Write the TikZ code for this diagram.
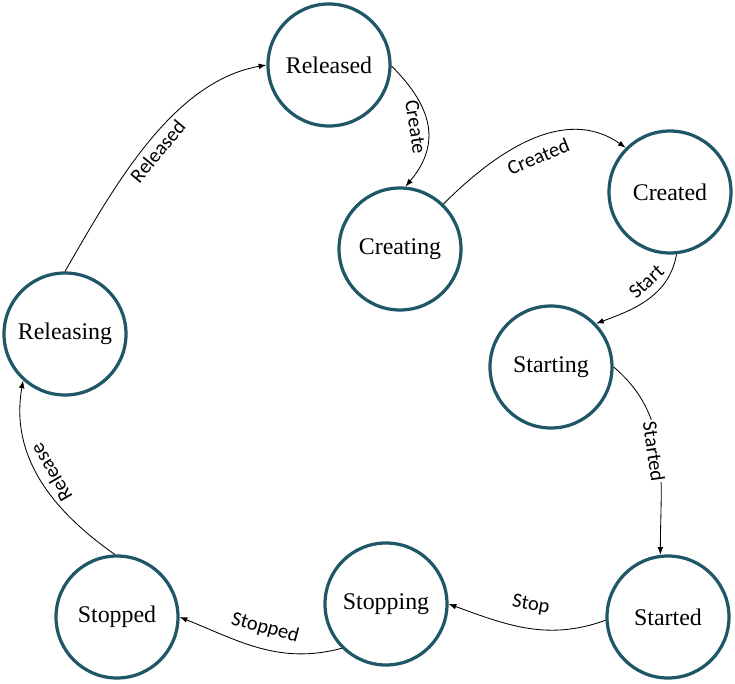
\documentclass[tikz,border=0pt]{standalone}
\usepackage{fontspec}
\setmainfont{Liberation Serif}
\newfontfamily\lblfont{Carlito}
\usepackage{tikz}
\usetikzlibrary{arrows.meta}
\definecolor{cRing}{RGB}{31,87,102}

\begin{document}
\begin{tikzpicture}[>={Latex[length=5.5pt,width=4pt]},
    stnode/.style={circle, draw=cRing, line width=2.3pt, minimum size=3.05cm, inner sep=0pt, font=\fontsize{17}{19}\selectfont},
    edge/.style={->, line width=0.6pt},
    lbl/.style={font=\lblfont\fontsize{14.5}{16}\selectfont, sloped}]

    \useasboundingbox (0, 0) rectangle (18.375, 17.075);

    % --- States ---
    \node[stnode] (released)  at (8.225, 15.45)  {Released};
    \node[stnode] (creating)  at (10.0, 10.85)   {Creating};
    \node[stnode] (created)   at (16.75, 12.275) {Created};
    \node[stnode] (starting)  at (13.775, 7.9)   {Starting};
    \node[stnode] (started)   at (16.7, 1.65)    {Started};
    \node[stnode] (stopping)  at (9.65, 1.975)   {Stopping};
    \node[stnode] (stopped)   at (2.925, 1.65)   {Stopped};
    \node[stnode] (releasing) at (1.625, 8.725)  {Releasing};

    % --- Transitions ---
    \draw[edge] (releasing.90) to[out=60, in=190, looseness=0.85]
        node[lbl, midway, below] {Released} (released.180);
    \draw[edge] (released.-1) to[out=-45, in=50, looseness=1.2]
        node[lbl, midway, below, allow upside down] {Create} (creating.85);
    \draw[edge] (creating.46) to[out=45, in=145]
        node[lbl, midway, below=4pt] {Created} (created.135);
    \draw[edge] (created.-84) to[out=-100, in=20]
        node[lbl, pos=0.4, above=2pt] {Start} (starting.44);
    \draw[edge] (starting.0) to[out=-40, in=90]
        node[lbl, midway, below=-3pt, fill=white, inner sep=1pt] {Started} (started.97);
    \draw[edge] (started.183) to[out=200, in=-20]
        node[lbl, midway, above=7pt] {Stop} (stopping.0);
    \draw[edge] (stopping.-135) to[out=195, in=-22]
        node[lbl, midway, above=5pt] {Stopped} (stopped.0);
    \draw[edge] (stopped.92) to[out=145, in=-100]
        node[lbl, midway, below, allow upside down] {Release} (releasing.-132);

\end{tikzpicture}
\end{document}
